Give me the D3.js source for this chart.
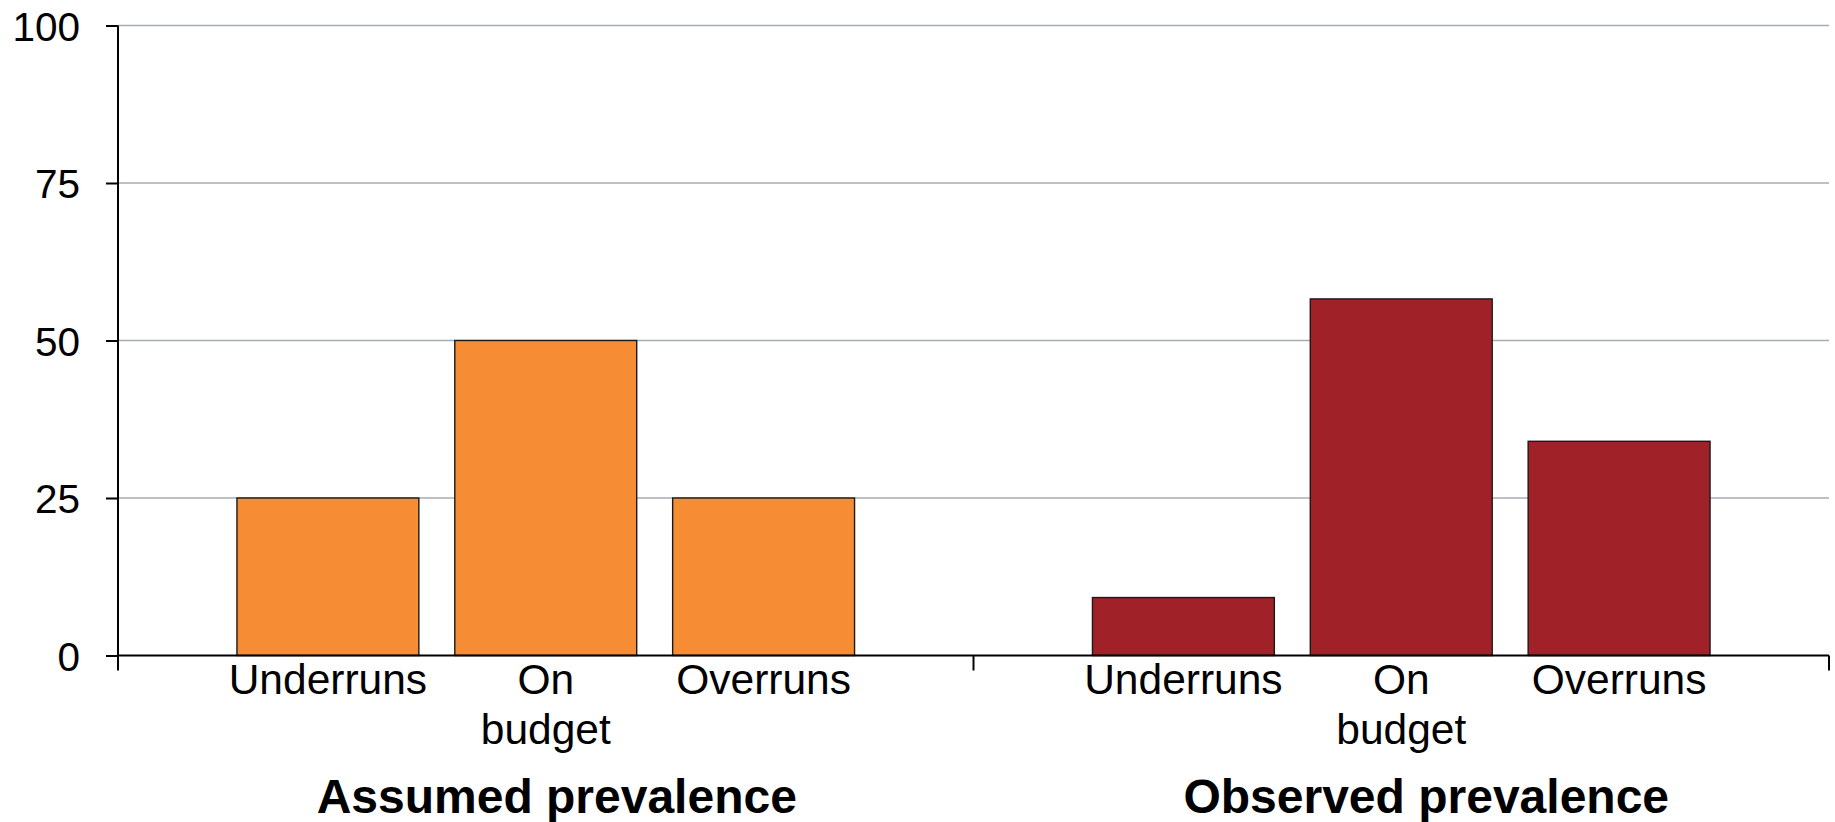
<!DOCTYPE html>
<html>
<head>
<meta charset="utf-8">
<script src="https://cdn.jsdelivr.net/npm/d3@7"></script>
<style>
  html, body { margin: 0; padding: 0; background: #ffffff; }
  svg { display: block; font-family: "Liberation Sans", Arial, sans-serif; }
</style>
</head>
<body>
<svg id="chart" width="1835" height="822"></svg>
<script>
// Budget outcome shares (%), assumed vs observed
const groups = ["Assumed prevalence", "Observed prevalence"];
const categories = ["Underruns", "On budget", "Overruns"];
const assumedValues = [25, 50, 25];
const observedValues = [9.2, 56.6, 34];
const yTickValues = [0, 25, 50, 75, 100];
const groupColors = ["#F68D35", "#A02128"];

const seriesByGroup = [assumedValues, observedValues];

const width = 1835, height = 822;
const margin = { top: 25.5, right: 6, bottom: 166.5, left: 118 };

const svg = d3.select("#chart");

const y = d3.scaleLinear()
  .domain([0, 100])
  .range([height - margin.bottom, margin.top]);

const xGroup = d3.scaleBand()
  .domain(groups)
  .range([margin.left, width - margin.right])
  .padding(0);

const xCat = d3.scaleBand()
  .domain(categories)
  .range([0, xGroup.bandwidth()])
  .paddingInner(0.165)
  .paddingOuter(0.546);

// Horizontal gridlines
svg.append("g")
  .selectAll("line")
  .data(yTickValues.filter(d => d > 0))
  .join("line")
  .attr("x1", margin.left)
  .attr("x2", width - margin.right)
  .attr("y1", d => y(d))
  .attr("y2", d => y(d))
  .attr("stroke", "#a7adb4")
  .attr("stroke-width", 1.6);

// Bars
const barData = [];
groups.forEach((g, gi) => {
  categories.forEach((c, ci) => {
    barData.push({ group: g, cat: c, value: seriesByGroup[gi][ci], color: groupColors[gi] });
  });
});

svg.append("g")
  .selectAll("rect")
  .data(barData)
  .join("rect")
  .attr("x", d => xGroup(d.group) + xCat(d.cat))
  .attr("width", xCat.bandwidth())
  .attr("y", d => y(d.value))
  .attr("height", d => y(0) - y(d.value))
  .attr("fill", d => d.color)
  .attr("stroke", "#1a1a1a")
  .attr("stroke-width", 1.4);

// Y axis
const yAxis = d3.axisLeft(y)
  .tickValues(yTickValues)
  .tickSize(12)
  .tickPadding(26)
  .tickFormat(d3.format("d"));

const yAxisG = svg.append("g")
  .attr("transform", `translate(${margin.left},0)`)
  .call(yAxis);
yAxisG.select(".domain").remove();
yAxisG.selectAll(".tick line").attr("stroke", "#000").attr("stroke-width", 2);
yAxisG.selectAll(".tick text")
  .attr("font-size", 40.5)
  .attr("fill", "#000")
  .attr("font-family", "Liberation Sans, Arial, sans-serif")
  .attr("dy", "0.36em");

// Vertical axis line, continuing below the baseline
svg.append("line")
  .attr("x1", margin.left).attr("x2", margin.left)
  .attr("y1", y(100)).attr("y2", y(0) + 15)
  .attr("stroke", "#000").attr("stroke-width", 2);

// Baseline
svg.append("line")
  .attr("x1", margin.left).attr("x2", width - margin.right)
  .attr("y1", y(0)).attr("y2", y(0))
  .attr("stroke", "#000").attr("stroke-width", 2);

// Group boundary ticks on the category axis
const boundaries = groups.map(g => xGroup(g)).concat([xGroup(groups[groups.length - 1]) + xGroup.bandwidth()]);
svg.append("g")
  .selectAll("line")
  .data(boundaries.slice(1))
  .join("line")
  .attr("x1", d => d).attr("x2", d => d)
  .attr("y1", y(0)).attr("y2", y(0) + 15)
  .attr("stroke", "#000").attr("stroke-width", 2);

// Category labels (wrapped onto separate lines)
const catLabels = svg.append("g")
  .attr("font-size", 42.5)
  .attr("fill", "#000")
  .attr("text-anchor", "middle");

barData.forEach(d => {
  const cx = xGroup(d.group) + xCat(d.cat) + xCat.bandwidth() / 2;
  const t = catLabels.append("text")
    .attr("x", cx)
    .attr("y", y(0) + 38);
  d.cat.split(" ").forEach((word, i) => {
    t.append("tspan")
      .attr("x", cx)
      .attr("dy", i === 0 ? 0 : 50)
      .text(word);
  });
});

// Group titles
const titleOffsets = [11, 25];
svg.append("g")
  .selectAll("text")
  .data(groups)
  .join("text")
  .attr("x", (d, i) => xGroup(d) + xGroup.bandwidth() / 2 + titleOffsets[i])
  .attr("y", y(0) + 157.5)
  .attr("text-anchor", "middle")
  .attr("font-size", 48)
  .attr("font-weight", "bold")
  .attr("fill", "#000")
  .text(d => d);
</script>
</body>
</html>
